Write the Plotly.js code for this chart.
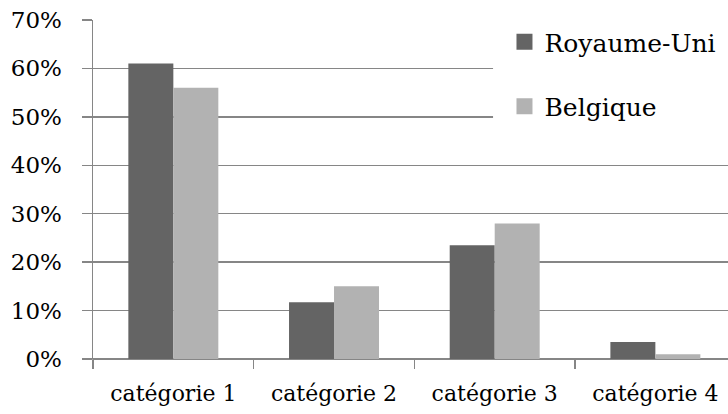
<!DOCTYPE html>
<html>
<head>
<meta charset="utf-8">
<script src="https://cdn.plot.ly/plotly-3.0.1.min.js"></script>
<style>html,body{margin:0;padding:0;background:#fff;}#chart{width:728px;height:414px;}</style>
</head>
<body>
<div id="chart"></div>
<script>
const categories = ["catégorie 1", "catégorie 2", "catégorie 3", "catégorie 4"];
const royaumeUni = [0.61, 0.117, 0.235, 0.035];
const belgique = [0.56, 0.15, 0.28, 0.01];
const seriesNames = ["Royaume-Uni", "Belgique"];
const yTickVals = [0, 0.1, 0.2, 0.3, 0.4, 0.5, 0.6, 0.7];
const yTickText = ["0%", "10%", "20%", "30%", "40%", "50%", "60%", "70%"];

const FONT = "DejaVu Serif, serif";
const DARK = "#646464", LIGHT = "#b2b2b2", GRID = "#868686";

const traces = [
  {type: "bar", x: categories, y: royaumeUni, name: seriesNames[0], marker: {color: DARK}, showlegend: false},
  {type: "bar", x: categories, y: belgique, name: seriesNames[1], marker: {color: LIGHT}, showlegend: false},
  // legend entries (larger square swatches, as in the reference)
  {type: "scatter", mode: "markers", x: [null], y: [null], name: seriesNames[0],
   marker: {symbol: "square", size: 17, color: DARK}, legend: "legend", hoverinfo: "skip"},
  {type: "scatter", mode: "markers", x: [null], y: [null], name: seriesNames[1],
   marker: {symbol: "square", size: 17, color: LIGHT}, legend: "legend2", hoverinfo: "skip"}
];

const legendCommon = {
  xanchor: "left", yanchor: "middle",
  bgcolor: "rgba(255,255,255,0)",
  font: {family: FONT, size: 25, color: "#000"},
  itemwidth: 30
};

const layout = {
  width: 728, height: 414,
  margin: {l: 93, r: 0, t: 20, b: 55, pad: 0},
  paper_bgcolor: "#fff", plot_bgcolor: "#fff",
  barmode: "group", bargap: 0.44, bargroupgap: 0,
  font: {family: FONT, size: 22, color: "#000"},
  xaxis: {
    type: "category", range: [-0.5, 3.452],
    tickson: "boundaries", ticks: "outside", ticklen: 9, tickcolor: GRID, tickwidth: 1.5,
    showgrid: false, showline: false, zeroline: false,
    tickfont: {family: FONT, size: 22, color: "#000"}, ticklabelstandoff: 19
  },
  yaxis: {
    range: [0, 0.7], tickvals: yTickVals, ticktext: yTickText,
    ticks: "outside", ticklen: 10, tickcolor: GRID, tickwidth: 1.5,
    showgrid: true, gridcolor: GRID, gridwidth: 1.5,
    showline: true, linecolor: GRID, linewidth: 1.5,
    zeroline: true, zerolinecolor: GRID, zerolinewidth: 1.5,
    tickfont: {family: FONT, size: 23, color: "#000"}, ticklabelstandoff: 15
  },
  shapes: [
    {type: "rect", xref: "paper", yref: "paper", x0: 0.63, x1: 1.01, y0: 0.62, y1: 1.05,
     fillcolor: "#fff", line: {width: 0}, layer: "above"},
    {type: "line", xref: "paper", yref: "paper", x0: 0, x1: 0, y0: 0, y1: -0.025,
     line: {color: GRID, width: 1.5}}
  ],
  legend: Object.assign({x: 0.648, y: 0.935}, legendCommon),
  legend2: Object.assign({x: 0.648, y: 0.745}, legendCommon),
  showlegend: true
};

Plotly.newPlot("chart", traces, layout, {displayModeBar: false, staticPlot: true});
</script>
</body>
</html>
